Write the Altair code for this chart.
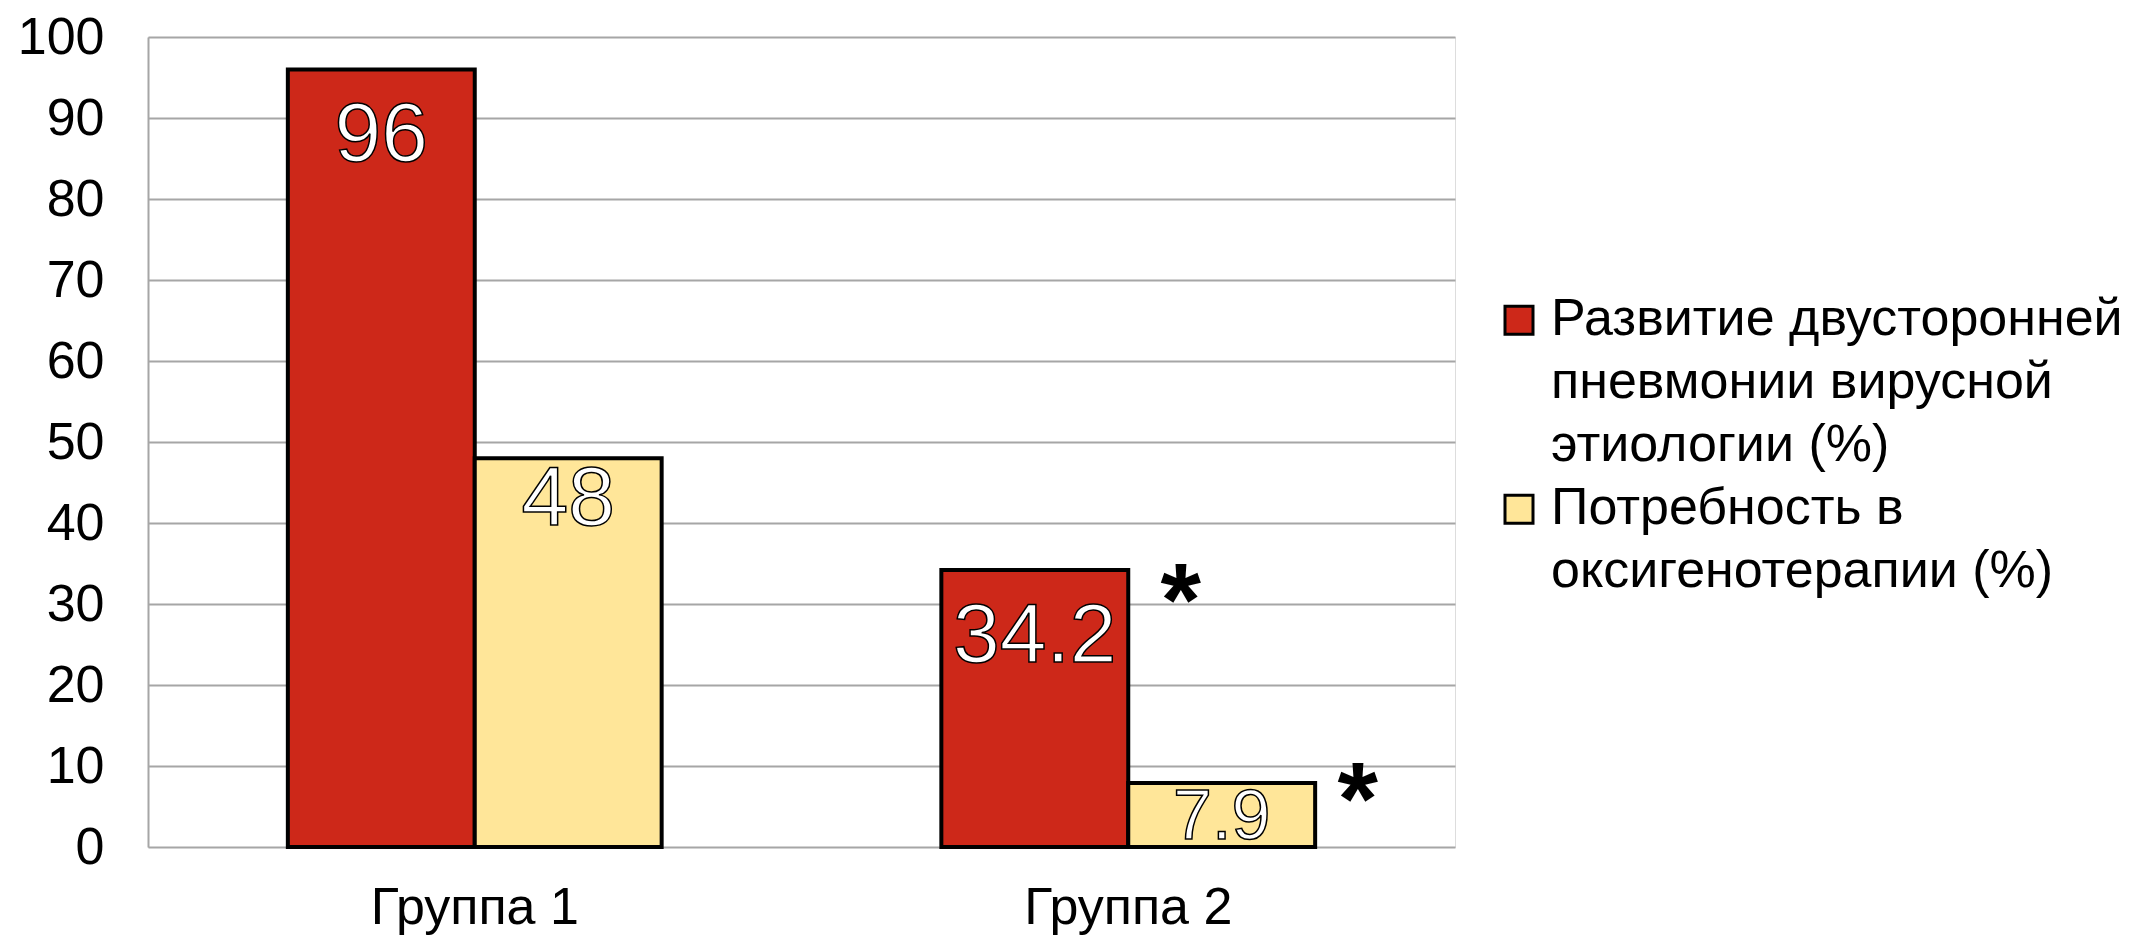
import altair as alt
import pandas as pd

groups = ["Группа 1", "Группа 2"]
series = [
    "Развитие двусторонней пневмонии вирусной этиологии (%)",
    "Потребность в оксигенотерапии (%)",
]
legend_lines = [
    ["Развитие двусторонней", "пневмонии вирусной", "этиологии (%)"],
    ["Потребность в", "оксигенотерапии (%)"],
]
pneumonia = [96, 34.2]
oxygen = [48, 7.9]
pneumonia_sig = ["", "*"]
oxygen_sig = ["", "*"]
colors = ["#cd2819", "#ffe699"]

FONT = "Liberation Sans"
LEG_FS = 52
LEG_LH = 63

rows = []
for i, g in enumerate(groups):
    rows.append(dict(group=g, series=series[0], value=pneumonia[i], sig=pneumonia_sig[i]))
    rows.append(dict(group=g, series=series[1], value=oxygen[i], sig=oxygen_sig[i]))
df = pd.DataFrame(rows)

label_expr = f"datum.value == '{series[0]}' ? {legend_lines[0]!r} : {legend_lines[1]!r}"

x_enc = alt.X(
    "group:N",
    sort=groups,
    scale=alt.Scale(paddingInner=0.428, paddingOuter=0.214),
    axis=alt.Axis(
        title=None, labelAngle=0, ticks=False, domain=False, labelLimit=0,
        labelFontSize=52, labelPadding=35, labelColor="black", labelFont=FONT,
    ),
)
xo_enc = alt.XOffset("series:N", sort=series, scale=alt.Scale(paddingInner=0, paddingOuter=0))
y_enc = alt.Y(
    "value:Q",
    scale=alt.Scale(domain=[0, 100], nice=False),
    axis=alt.Axis(
        title=None, values=list(range(0, 101, 10)), ticks=False,
        domainColor="#a6a6a6", domainWidth=2, gridColor="#a6a6a6", gridWidth=2,
        labelFontSize=52, labelPadding=44, labelColor="black", labelFont=FONT,
    ),
)

base = alt.Chart(df)

# square legend swatch, raised so that it sits level with the first label line
swatch = "M-1,-2.05H1V-0.05H-1Z"

bars = base.mark_bar(stroke="black", strokeWidth=4, strokeJoin="miter").encode(
    x=x_enc,
    xOffset=xo_enc,
    y=y_enc,
    color=alt.Color(
        "series:N",
        sort=series,
        scale=alt.Scale(domain=series, range=colors),
        legend=alt.Legend(
            title=None, orient="none", legendX=1345, legendY=272,
            symbolType=swatch, symbolSize=784, symbolStrokeColor="black",
            symbolStrokeWidth=3, symbolOpacity=1, labelFontSize=LEG_FS, labelFont=FONT,
            labelColor="black", labelLimit=1000, labelOffset=6, rowPadding=11,
            labelExpr=label_expr, labelBaseline="alphabetic",
        ),
    ),
)

def value_labels(idx, dy):
    return base.transform_filter(alt.datum.series == series[idx]).mark_text(
        baseline="top", font=FONT, fill="white", stroke="black",
        strokeWidth=1.5, dy=dy,
    ).encode(
        x=alt.X("group:N", sort=groups),
        xOffset=alt.XOffset("series:N", sort=series),
        y="value:Q",
        text=alt.Text("value:Q", format=".4~g"),
        size=alt.condition(alt.datum.value < 10, alt.value(70), alt.value(84)),
    )

def stars(idx, dx, dy):
    return base.transform_filter(
        (alt.datum.series == series[idx]) & (alt.datum.sig != "")
    ).mark_text(
        baseline="top", fontSize=104, fontWeight="bold", font=FONT, color="black", dx=dx, dy=dy,
    ).encode(
        x=alt.X("group:N", sort=groups),
        xOffset=alt.XOffset("series:N", sort=series),
        y="value:Q",
        text="sig:N",
    )

chart = alt.layer(
    bars,
    value_labels(0, 26),
    value_labels(1, 1),
    stars(0, 146, -16),
    stars(1, 136, -30),
).properties(
    width=1307,
    height=810,
    autosize=alt.AutoSizeParams(type="none"),
    padding={"left": 140, "top": 29, "right": 680, "bottom": 95},
).configure_view(stroke=None).configure(
    style={"guide-label": {"lineHeight": LEG_LH}}
)

chart.save("out.html", embed_options={"renderer": "svg", "actions": False})
